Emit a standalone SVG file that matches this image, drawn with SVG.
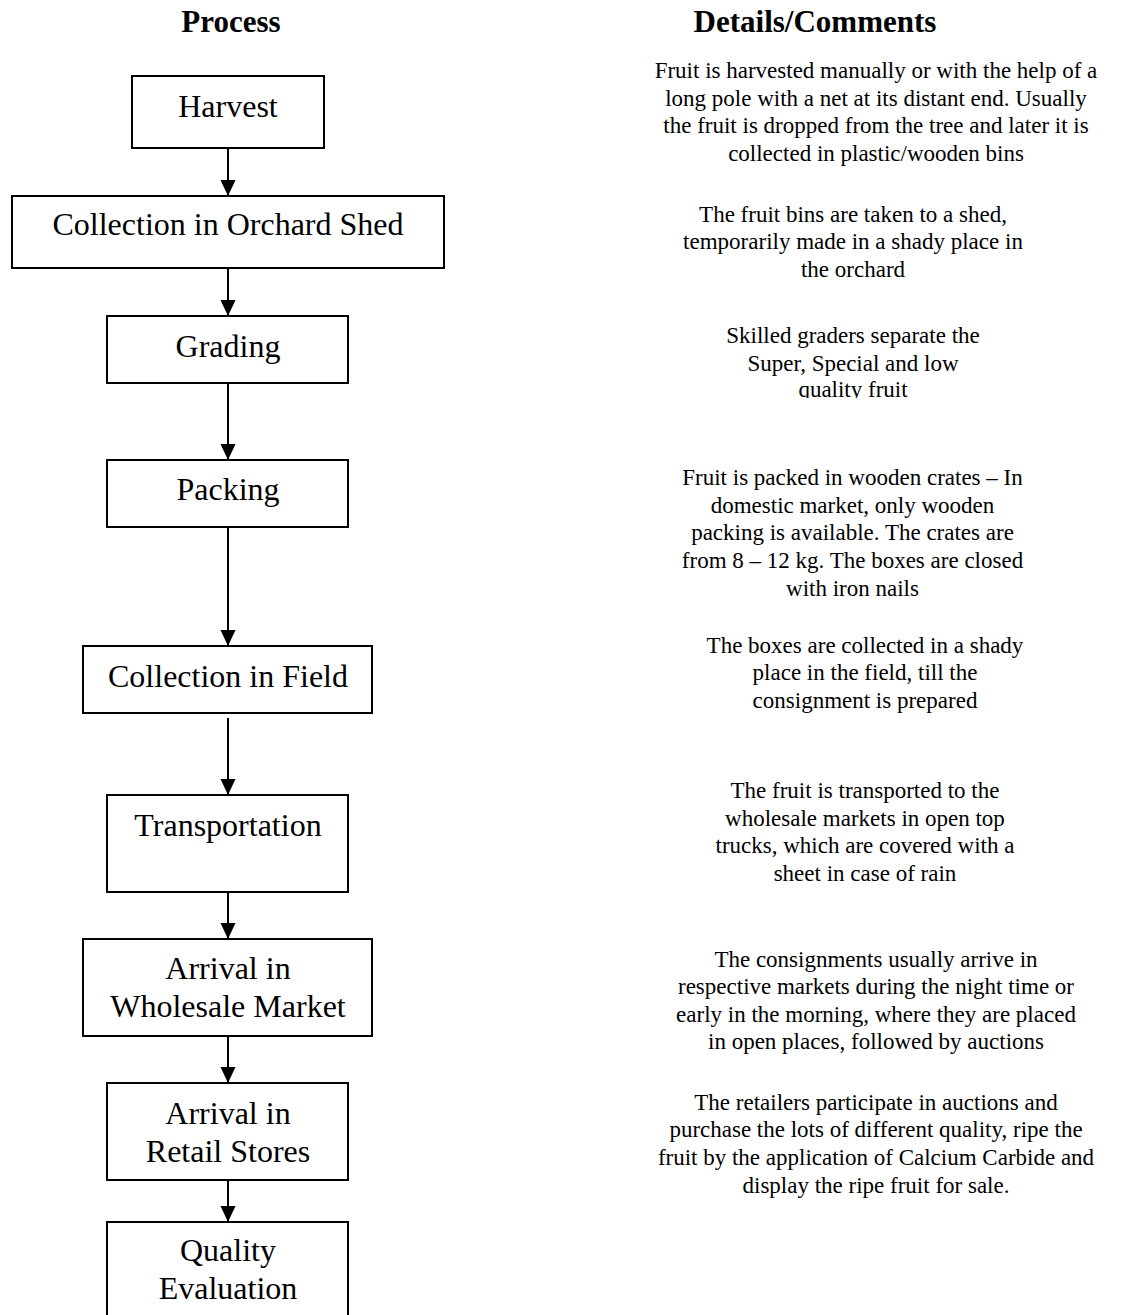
<svg xmlns="http://www.w3.org/2000/svg" width="1124" height="1315" viewBox="0 0 1124 1315">
  <style>
    .title { font-family: "Liberation Serif", "Times New Roman", serif; font-size: 31px; font-weight: bold; fill: #000; text-anchor: middle; }
    .box { fill: #fff; stroke: #000; stroke-width: 2; }
    .label { font-family: "Liberation Serif", "Times New Roman", serif; font-size: 32px; fill: #000; text-anchor: middle; }
    .note { font-family: "Liberation Serif", "Times New Roman", serif; font-size: 23px; fill: #000; text-anchor: middle; }
    .flow { stroke: #000; stroke-width: 2; fill: none; marker-end: url(#arrow); }
  </style>
  <defs>
    <marker id="arrow" markerUnits="userSpaceOnUse" markerWidth="16" markerHeight="16" refX="16" refY="7.5" orient="auto">
      <path d="M0,0 L16,7.5 L0,15 z" fill="#000"/>
    </marker>
    <clipPath id="clip-grading-note">
      <rect x="600" y="310" width="500" height="88"/>
    </clipPath>
  </defs>

  <rect width="1124" height="1315" fill="#fff"/>

  <!-- column headings -->
  <text class="title" x="231" y="32">Process</text>
  <text class="title" x="815" y="32">Details/Comments</text>

  <!-- connectors -->
  <g id="connectors">
    <line class="flow" x1="228" y1="148" x2="228" y2="196"/>
    <line class="flow" x1="228" y1="268" x2="228" y2="316"/>
    <line class="flow" x1="228" y1="383" x2="228" y2="460"/>
    <line class="flow" x1="228" y1="527" x2="228" y2="646"/>
    <line class="flow" x1="228" y1="718" x2="228" y2="795"/>
    <line class="flow" x1="228" y1="892" x2="228" y2="939"/>
    <line class="flow" x1="228" y1="1036" x2="228" y2="1083"/>
    <line class="flow" x1="228" y1="1174" x2="228" y2="1222"/>
  </g>

  <!-- process steps -->
  <g id="harvest">
    <rect class="box" x="132" y="76" width="192" height="72"/>
    <text class="label" x="228" y="117">Harvest</text>
  </g>
  <g id="collection-orchard-shed">
    <rect class="box" x="12" y="196" width="432" height="72"/>
    <text class="label" x="228" y="235">Collection in Orchard Shed</text>
  </g>
  <g id="grading">
    <rect class="box" x="107" y="316" width="241" height="67"/>
    <text class="label" x="228" y="357">Grading</text>
  </g>
  <g id="packing">
    <rect class="box" x="107" y="460" width="241" height="67"/>
    <text class="label" x="228" y="500">Packing</text>
  </g>
  <g id="collection-field">
    <rect class="box" x="83" y="646" width="289" height="67"/>
    <text class="label" x="228" y="687">Collection in Field</text>
  </g>
  <g id="transportation">
    <rect class="box" x="107" y="795" width="241" height="97"/>
    <text class="label" x="228" y="836">Transportation</text>
  </g>
  <g id="wholesale-market">
    <rect class="box" x="83" y="939" width="289" height="97"/>
    <text class="label" x="228" y="979">Arrival in</text>
    <text class="label" x="228" y="1017">Wholesale Market</text>
  </g>
  <g id="retail-stores">
    <rect class="box" x="107" y="1083" width="241" height="97"/>
    <text class="label" x="228" y="1124">Arrival in</text>
    <text class="label" x="228" y="1162">Retail Stores</text>
  </g>
  <g id="quality-evaluation">
    <rect class="box" x="107" y="1222" width="241" height="110"/>
    <text class="label" x="228" y="1261">Quality</text>
    <text class="label" x="228" y="1299">Evaluation</text>
  </g>

  <!-- details / comments -->
  <g id="note-harvest">
    <text class="note" x="876" y="78">Fruit is harvested manually or with the help of a</text>
    <text class="note" x="876" y="106">long pole with a net at its distant end. Usually</text>
    <text class="note" x="876" y="133">the fruit is dropped from the tree and later it is</text>
    <text class="note" x="876" y="161">collected in plastic/wooden bins</text>
  </g>
  <g id="note-orchard-shed">
    <text class="note" x="853" y="222">The fruit bins are taken to a shed,</text>
    <text class="note" x="853" y="249">temporarily made in a shady place in</text>
    <text class="note" x="853" y="277">the orchard</text>
  </g>
  <g id="note-grading" clip-path="url(#clip-grading-note)">
    <text class="note" x="853" y="343">Skilled graders separate the</text>
    <text class="note" x="853" y="371">Super, Special and low</text>
    <text class="note" x="853" y="397">quality fruit</text>
  </g>
  <g id="note-packing">
    <text class="note" x="852.5" y="485">Fruit is packed in wooden crates – In</text>
    <text class="note" x="852.5" y="513">domestic market, only wooden</text>
    <text class="note" x="852.5" y="540">packing is available. The crates are</text>
    <text class="note" x="852.5" y="568">from 8 – 12 kg. The boxes are closed</text>
    <text class="note" x="852.5" y="596">with iron nails</text>
  </g>
  <g id="note-field">
    <text class="note" x="865" y="653">The boxes are collected in a shady</text>
    <text class="note" x="865" y="680">place in the field, till the</text>
    <text class="note" x="865" y="708">consignment is prepared</text>
  </g>
  <g id="note-transportation">
    <text class="note" x="865" y="798">The fruit is transported to the</text>
    <text class="note" x="865" y="826">wholesale markets in open top</text>
    <text class="note" x="865" y="853">trucks, which are covered with a</text>
    <text class="note" x="865" y="881">sheet in case of rain</text>
  </g>
  <g id="note-wholesale">
    <text class="note" x="876" y="967">The consignments usually arrive in</text>
    <text class="note" x="876" y="994">respective markets during the night time or</text>
    <text class="note" x="876" y="1022">early in the morning, where they are placed</text>
    <text class="note" x="876" y="1049">in open places, followed by auctions</text>
  </g>
  <g id="note-retail">
    <text class="note" x="876" y="1110">The retailers participate in auctions and</text>
    <text class="note" x="876" y="1137">purchase the lots of different quality, ripe the</text>
    <text class="note" x="876" y="1165">fruit by the application of Calcium Carbide and</text>
    <text class="note" x="876" y="1193">display the ripe fruit for sale.</text>
  </g>
</svg>
